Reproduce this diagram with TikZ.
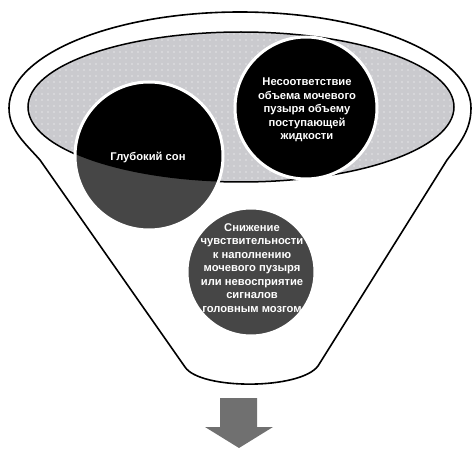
\documentclass[tikz,border=0pt]{standalone}
\usepackage{fontspec}
\setmainfont{Liberation Sans}
\usetikzlibrary{patterns.meta}
\definecolor{cupgray}{RGB}{202,202,206}
\definecolor{ballgray}{RGB}{70,70,70}
\definecolor{arrowgray}{RGB}{112,112,112}
\begin{document}
\begin{tikzpicture}[x=1pt,y=1pt,inner sep=0pt,outer sep=0pt,
rim/.style={draw,line width=1.6pt,line join=round},
ring/.style={draw=white,line width=3pt},
txt/.style={text=white,font=\bfseries\fontsize{11.2}{13.5}\selectfont,align=center}]

\useasboundingbox (0,0) rectangle (472,448);

\draw[rim] (40,288) .. controls (25,305) and (9,318) .. (9,340)
  arc[start angle=180,end angle=0,x radius=231pt,y radius=96pt]
  .. controls (471,318) and (460,305) .. (447,288) -- (318,82)
  .. controls (300,58) and (200,58) .. (185,81) -- cycle;

\coordinate (cup) at (241,341);
\coordinate (sleep) at (149,292);
\coordinate (volume) at (306,340);
\coordinate (signal) at (251,176);

\fill[cupgray] (cup) ellipse[x radius=213pt,y radius=75pt];
\fill[pattern={Dots[distance=6pt,radius=0.55pt]},pattern color=white] (cup) ellipse[x radius=213pt,y radius=75pt];
\draw[line width=1.5pt] (cup) ellipse[x radius=213pt,y radius=75pt];

\fill[ballgray] (sleep) circle[radius=74pt];
\fill[ballgray] (volume) circle[radius=71pt];
\fill[ballgray] (signal) circle[radius=64pt];
\begin{scope}
\clip (cup) ellipse[x radius=213pt,y radius=75pt];
\fill[black] (sleep) circle[radius=74pt];
\fill[black] (volume) circle[radius=71pt];
\end{scope}
\draw[ring] (sleep) circle[radius=74pt];
\draw[ring] (volume) circle[radius=71pt];
\draw[ring] (signal) circle[radius=64pt];

\node[txt] (sleeptxt) at (148,291) {Глубокий сон};
\node[txt] (volumetxt) at (307,338) {Несоответствие\\объема мочевого\\пузыря объему\\поступающей\\жидкости};
\node[txt] (signaltxt) at (252,180) {Снижение\\чувствительности\\к наполнению\\мочевого пузыря\\или невосприятие\\сигналов\\головным мозгом};

\fill[arrowgray] (220,50) -- (257,50) -- (257,21) -- (273,21) -- (239,0)
  -- (205,21) -- (220,21) -- cycle;
\end{tikzpicture}
\end{document}
